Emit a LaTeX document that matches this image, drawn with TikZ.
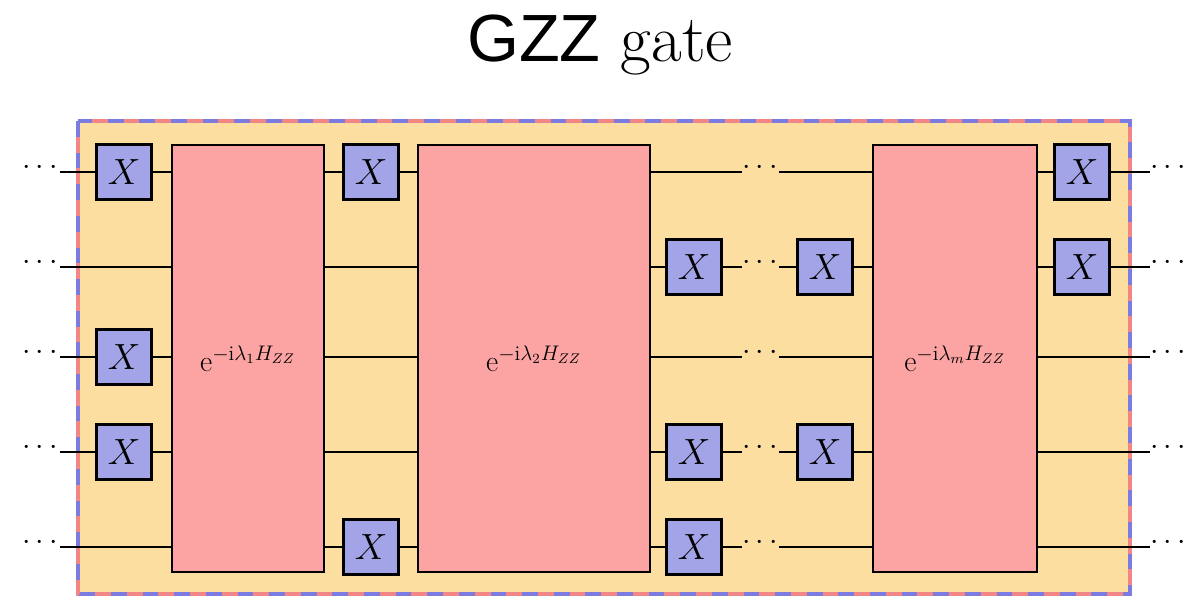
\documentclass[tikz,border=0pt]{standalone}
\usepackage{fontspec}
\newfontfamily\sansf{Liberation Sans}
\begin{document}
\begin{tikzpicture}[x=0.02cm,y=-0.02cm,
  xg/.style={draw=black,line width=1.2pt,fill=xblue,minimum size=1.1cm,inner sep=0pt,font=\fontsize{20}{24}\selectfont},
  ug/.style={draw=black,line width=1.2pt,fill=ured,inner sep=0pt,font=\fontsize{17}{20}\selectfont},
  w/.style={line width=1.2pt},
  dt/.style={inner sep=0pt,font=\fontsize{17}{20}\selectfont}]
\definecolor{xblue}{HTML}{A3A3E8}
\definecolor{ured}{HTML}{FCA3A3}
\definecolor{bgo}{HTML}{FDDEA1}
\definecolor{bred}{HTML}{F28585}
\definecolor{bblue}{HTML}{7C7CE0}
\useasboundingbox (0,0) rectangle (1200,600);
\node (title) at (600,45) {\fontsize{38}{44}\selectfont{\sansf GZZ} gate};
\fill[bgo] (78,121) rectangle (1130,594);
\draw[bblue,line width=2.5pt,dash pattern=on 9pt off 9pt] (78,121) rectangle (1130,594);
\draw[bred,line width=2.5pt,dash pattern=on 9pt off 9pt,dash phase=9pt] (78,121) rectangle (1130,594);
% wires
\foreach \i/\y in {1/172,2/267,3/357,4/452,5/547}{
  \node[dt] (L\i) at (40,\y-4) {$\cdots$};
  \node[dt] (R\i) at (1168,\y-4) {$\cdots$};
  \node[dt] (M\i) at (760,\y-4) {$\cdots$};
  \coordinate (la\i) at (60,\y);
  \coordinate (ra\i) at (1150,\y);
  \coordinate (ma\i) at (742,\y);
  \coordinate (mb\i) at (779,\y);
  \draw[w] (la\i) -- (ma\i);
  \draw[w] (mb\i) -- (ra\i);
}
\node[ug,minimum width=152*0.02cm,minimum height=427*0.02cm] (U1) at (248,358.5) {$\mathrm{e}^{-\mathrm{i}\lambda_1 H_{ZZ}}$};
\node[ug,minimum width=232*0.02cm,minimum height=427*0.02cm] (U2) at (534,358.5) {$\mathrm{e}^{-\mathrm{i}\lambda_2 H_{ZZ}}$};
\node[ug,minimum width=164*0.02cm,minimum height=427*0.02cm] (U3) at (955,358.5) {$\mathrm{e}^{-\mathrm{i}\lambda_m H_{ZZ}}$};
\foreach \n/\x/\y in {a1/124/172,a3/124/357,a4/124/452,b1/371/172,b5/371/547,c2/694/267,c4/694/452,c5/694/547,d2/825/267,d4/825/452,e1/1082/172,e2/1082/267}
  \node[xg] (X\n) at (\x,\y) {$X$};
\end{tikzpicture}
\end{document}
